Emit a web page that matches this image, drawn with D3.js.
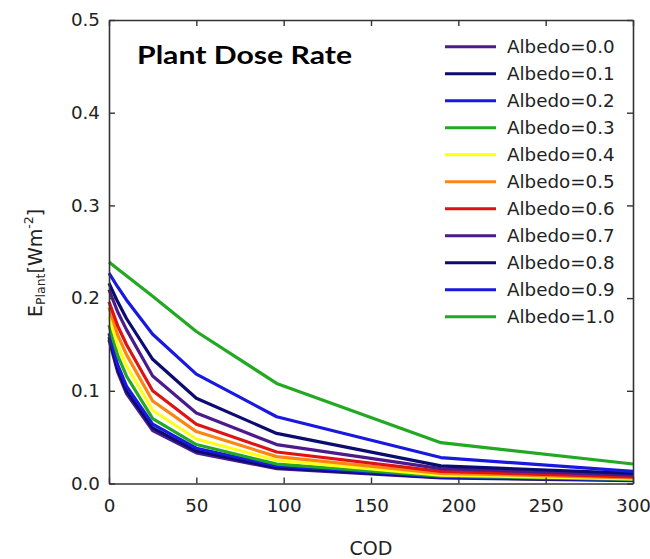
<!DOCTYPE html>
<html>
<head>
<meta charset="utf-8">
<script src="https://cdn.jsdelivr.net/npm/d3@7"></script>
<style>
  body { margin: 0; background: #fff; }
  svg { display: block; }
</style>
</head>
<body>
<svg id="chart" width="650" height="559"></svg>
<script>
// ---- data ----
const cod = [0, 5, 10, 25, 50, 96, 190, 300];
const albedoLabels = ["Albedo=0.0","Albedo=0.1","Albedo=0.2","Albedo=0.3","Albedo=0.4","Albedo=0.5","Albedo=0.6","Albedo=0.7","Albedo=0.8","Albedo=0.9","Albedo=1.0"];
const albedo00 = [0.155, 0.120, 0.097, 0.057, 0.033, 0.016, 0.006, 0.003];
const albedo01 = [0.158, 0.123, 0.100, 0.060, 0.035, 0.017, 0.0065, 0.0035];
const albedo02 = [0.162, 0.128, 0.105, 0.064, 0.038, 0.019, 0.007, 0.004];
const albedo03 = [0.171, 0.138, 0.116, 0.070, 0.042, 0.021, 0.008, 0.0045];
const albedo04 = [0.180, 0.149, 0.127, 0.079, 0.048, 0.025, 0.009, 0.005];
const albedo05 = [0.190, 0.160, 0.139, 0.089, 0.056, 0.029, 0.011, 0.006];
const albedo06 = [0.196, 0.170, 0.150, 0.100, 0.064, 0.034, 0.013, 0.007];
const albedo07 = [0.209, 0.185, 0.166, 0.116, 0.076, 0.042, 0.016, 0.009];
const albedo08 = [0.216, 0.196, 0.178, 0.134, 0.092, 0.054, 0.019, 0.011];
const albedo09 = [0.227, 0.212, 0.198, 0.161, 0.118, 0.072, 0.028, 0.013];
const albedo10 = [0.239, 0.2315, 0.224, 0.202, 0.164, 0.108, 0.044, 0.021];
const seriesValues = [albedo00, albedo01, albedo02, albedo03, albedo04, albedo05, albedo06, albedo07, albedo08, albedo09, albedo10];
const xTicks = [0, 50, 100, 150, 200, 250, 300];
const yTicks = [0.0, 0.1, 0.2, 0.3, 0.4, 0.5];
const colors = ["#4B1A8C","#0B0B70","#1818E0","#22A822","#FFFF1A","#FF8512","#E01212","#4B1A8C","#0B0B70","#1818E0","#22A822"];

// ---- layout ----
const svg = d3.select("#chart");
const x = d3.scaleLinear().domain([0, 300]).range([109, 633]);
const y = d3.scaleLinear().domain([0, 0.5]).range([483.5, 20]);
const tickFont = "'DejaVu Sans', sans-serif";
const axisColor = "#333";

// lines
const line = d3.line().x((d, i) => x(cod[i])).y(d => y(d));
svg.append("g").selectAll("path")
  .data(seriesValues)
  .join("path")
  .attr("d", d => line(d))
  .attr("fill", "none")
  .attr("stroke", (d, i) => colors[i])
  .attr("stroke-width", 3.2)
  .attr("stroke-linejoin", "round");

// axes (ticks inward on all sides)
function styleAxis(g) {
  g.select(".domain").attr("stroke", axisColor).attr("stroke-width", 1.6);
  g.selectAll(".tick line").attr("stroke", axisColor).attr("stroke-width", 1.4);
  g.selectAll(".tick text").attr("fill", "#222").style("font-family", tickFont).style("font-size", "18.3px");
}
svg.append("g").attr("transform", `translate(0,${y(0)})`)
  .call(d3.axisBottom(x).tickValues(xTicks).tickSizeInner(-6).tickSizeOuter(0).tickPadding(16).tickFormat(d3.format("d")))
  .call(styleAxis);
svg.append("g").attr("transform", `translate(0,${y(0.5)})`)
  .call(d3.axisTop(x).tickValues(xTicks).tickSizeInner(-6).tickSizeOuter(0).tickFormat(""))
  .call(styleAxis);
svg.append("g").attr("transform", `translate(${x(0)},0)`)
  .call(d3.axisLeft(y).tickValues(yTicks).tickSizeInner(-6).tickSizeOuter(0).tickPadding(9).tickFormat(d3.format(".1f")))
  .call(styleAxis);
svg.append("g").attr("transform", `translate(${x(300)},0)`)
  .call(d3.axisRight(y).tickValues(yTicks).tickSizeInner(-6).tickSizeOuter(0).tickFormat(""))
  .call(styleAxis);

// axis titles
svg.append("text")
  .attr("x", 371).attr("y", 555)
  .attr("text-anchor", "middle")
  .style("font-family", tickFont).style("font-size", "19px").attr("fill", "#222")
  .text("COD");

const yl = svg.append("text")
  .attr("transform", "translate(42,317) rotate(-90)")
  .attr("x", 0).attr("y", 0)
  .style("font-family", tickFont).attr("fill", "#222");
yl.append("tspan").style("font-size", "19px").text("E");
yl.append("tspan").style("font-size", "12.5px").attr("dy", 3).text("Plant");
yl.append("tspan").style("font-size", "19px").attr("dy", -3).text("[Wm");
yl.append("tspan").style("font-size", "12.5px").attr("dy", -9).text("-2");
yl.append("tspan").style("font-size", "19px").attr("dy", 9).text("]");

// title
svg.append("text")
  .attr("x", 137).attr("y", 63.5)
  .attr("textLength", 215).attr("lengthAdjust", "spacingAndGlyphs")
  .style("font-family", "Lato, 'Open Sans', sans-serif").style("font-weight", "bold").style("font-size", "25px")
  .attr("fill", "#000")
  .text("Plant Dose Rate");

// legend
const lg = svg.append("g").selectAll("g")
  .data(albedoLabels)
  .join("g")
  .attr("transform", (d, i) => `translate(0,${46.7 + 27 * i})`);
lg.append("line")
  .attr("x1", 445).attr("x2", 496).attr("y1", 0).attr("y2", 0)
  .attr("stroke", (d, i) => colors[i]).attr("stroke-width", 3);
lg.append("text")
  .attr("x", 507).attr("y", 0).attr("dy", "0.36em")
  .style("font-family", tickFont).style("font-size", "18.3px").attr("fill", "#222")
  .text(d => d);
</script>
</body>
</html>
